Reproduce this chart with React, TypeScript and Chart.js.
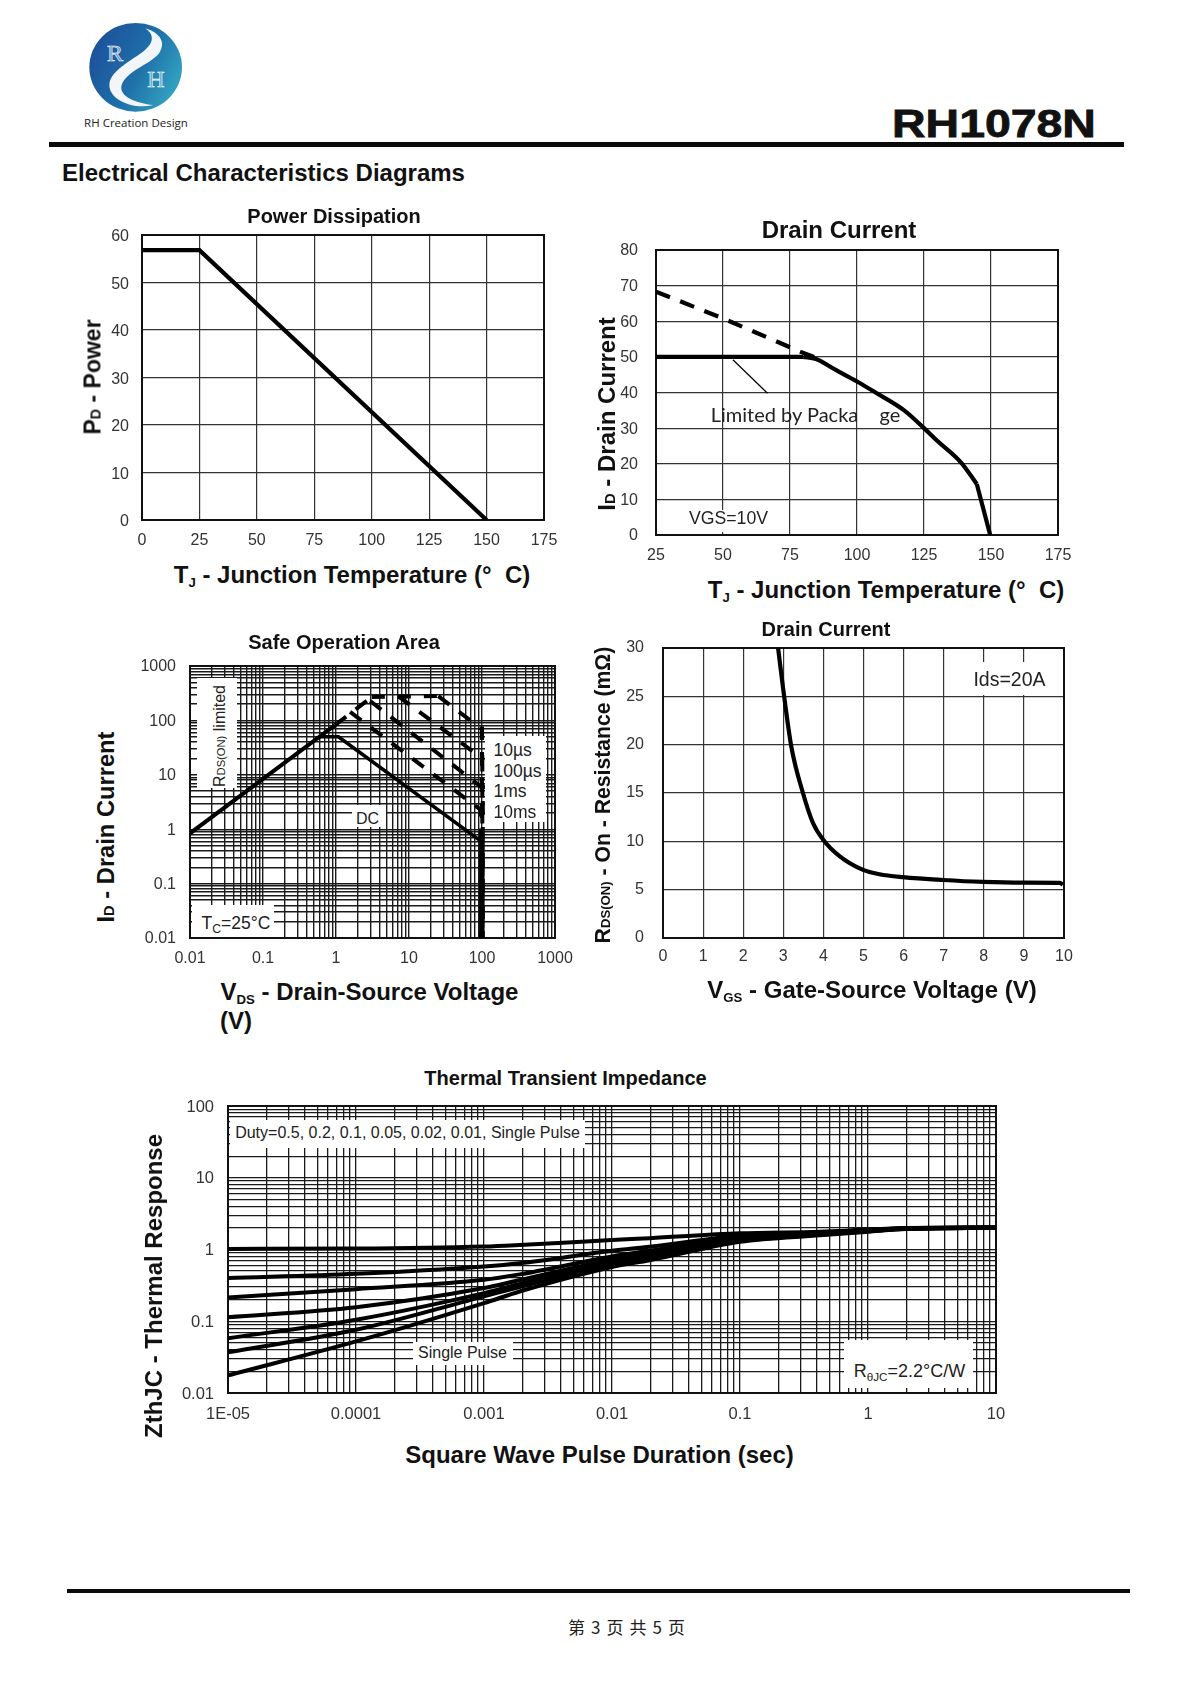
import React, { useEffect, useRef } from "react";
import { Chart, registerables } from "chart.js";

Chart.register(...registerables);

const SANS = '"Liberation Sans", Arial, sans-serif';

// ---------- Power Dissipation ----------
const powerTemp = [0, 25, 150];
const powerWatts = [56.8, 56.8, 0];

// ---------- Drain Current vs temperature ----------
const flatTemp = [25, 80];
const flatAmps = [50, 50];
const currentTemp = [80, 84.7, 91.9, 100, 106.9, 117.6, 125, 129.7, 139, 144.7];
const currentAmps = [50, 49.4, 46.4, 43.1, 40, 35, 30, 26.6, 20.2, 14.3];
const fallTemp = [144.7, 149.7];
const fallAmps = [14.3, 0];
const siliconTemp = [25, 50, 79, 84];
const siliconAmps = [68.3, 60.8, 51.4, 50];
const leaderTemp = [53.7, 66.6];
const leaderAmps = [49.2, 39.8];

// ---------- Safe Operation Area ----------
const rdsV = [0.01, 0.97];
const rdsA = [0.84, 81.6];
const rdsDashV = [0.97, 3.1];
const rdsDashA = [81.6, 270];
const topDashV = [3.1, 25.2];
const topDashA = [270, 280];
const dcV = [0.6, 1.08, 98.5];
const dcA = [50, 50, 0.59];
const dcTailV = [99.5, 99.5];
const dcTailA = [0.59, 0.01];
const us10V = [25.2, 97, 100, 100];
const us10A = [280, 71, 71, 0.01];
const us100V = [7.16, 97, 101, 101];
const us100A = [277, 20.8, 20.8, 0.01];
const ms1V = [2.94, 97, 102.5, 102.5];
const ms1A = [227, 6.03, 6.03, 0.01];
const ms10V = [1.56, 97, 97, 97];
const ms10A = [143, 2.25, 2.25, 0.01];
const soaTickLabelsX = ["0.01", "0.1", "1", "10", "100", "1000"];
const soaTickLabelsY = ["0.01", "0.1", "1", "10", "100", "1000"];

// ---------- On-resistance vs VGS ----------
const vgs = [2.87, 2.99, 3.2, 3.49, 3.74, 3.99, 4.41, 4.99, 5.4, 5.98, 6.98, 7.98, 8.98, 9.9, 9.97];
const rdsOn = [30, 26, 19.8, 15, 11.9, 10.2, 8.45, 7.05, 6.6, 6.3, 6.0, 5.8, 5.72, 5.7, 5.5];

// ---------- Thermal Transient Impedance ----------
const zthTimes = [1e-5, 1e-4, 1e-3, 0.0019, 0.01, 0.0197, 0.1, 0.42, 1, 2, 10];
const zthDuty50 = [1.02, 1.03, 1.1, 1.156, 1.356, 1.44, 1.68, 1.77, 1.9, 2.0, 2.03];
const zthDuty20 = [0.4, 0.458, 0.58, 0.643, 0.96, 1.09, 1.55, 1.73, 1.88, 1.98, 2.03];
const zthDuty10 = [0.215, 0.28, 0.378, 0.45, 0.8, 0.96, 1.46, 1.7, 1.85, 1.97, 2.02];
const zthDuty05 = [0.114, 0.157, 0.29, 0.375, 0.72, 0.88, 1.4, 1.66, 1.83, 1.96, 2.02];
const zthDuty02 = [0.058, 0.105, 0.247, 0.33, 0.66, 0.82, 1.35, 1.63, 1.81, 1.95, 2.01];
const zthDuty01 = [0.037, 0.076, 0.222, 0.3, 0.62, 0.77, 1.31, 1.6, 1.79, 1.94, 2.01];
const zthSingle = [0.0176, 0.0524, 0.179, 0.26, 0.57, 0.71, 1.28, 1.58, 1.77, 1.93, 2.0];
const zthTickLabelsX = ["1E-05", "0.0001", "0.001", "0.01", "0.1", "1", "10"];
const zthTickLabelsY = ["0.01", "0.1", "1", "10", "100"];

const pts = (xs: number[], ys: number[]) => xs.map((x, i) => ({ x, y: ys[i] }));

const line = (xs: number[], ys: number[], width: number, dash: number[] = [], smooth = false) => ({
  data: pts(xs, ys),
  showLine: true,
  borderColor: "#000",
  backgroundColor: "#000",
  borderWidth: width,
  borderDash: dash,
  pointRadius: 0,
  borderCapStyle: "butt",
  cubicInterpolationMode: smooth ? "monotone" : "default",
});

const framePlugin = {
  id: "frame",
  beforeDatasetsDraw(chart: any) {
    const { ctx, chartArea: a } = chart;
    ctx.save();
    ctx.strokeStyle = "#111";
    ctx.lineWidth = 2;
    ctx.strokeRect(a.left, a.top, a.right - a.left, a.bottom - a.top);
    ctx.restore();
  },
};

const PAD_L = 70;
const PAD_R = 40;
const PAD_T = 15;
const PAD_B = 40;

const fixSize = (s: any, side: "x" | "y") => {
  if (side === "x") s.height = PAD_B;
  else s.width = PAD_L;
  s.paddingTop = 0;
  s.paddingBottom = 0;
  s.paddingLeft = 0;
  s.paddingRight = 0;
};

function linearAxis(min: number, max: number, step: number, padding: number, size: number, side: "x" | "y", offset = 0) {
  return {
    type: "linear",
    min,
    max,
    border: { display: false },
    grid: { color: "#333", lineWidth: 1.2, drawTicks: false },
    ticks: {
      stepSize: step,
      padding,
      color: "#333",
      maxRotation: 0,
      autoSkip: false,
      labelOffset: offset,
      font: { family: SANS, size },
    },
    afterFit: (s: any) => fixSize(s, side),
  };
}

function logAxis(min: number, max: number, labels: string[], padding: number, size: number, side: "x" | "y", gridWidth: number) {
  const first = Math.round(Math.log10(min));
  const last = Math.round(Math.log10(max));
  return {
    type: "logarithmic",
    min,
    max,
    border: { display: false },
    grid: { color: "#1a1a1a", lineWidth: gridWidth, drawTicks: false },
    ticks: {
      padding,
      color: "#333",
      maxRotation: 0,
      autoSkip: false,
      labelOffset: side === "y" ? 1 : 0,
      font: { family: SANS, size },
      callback: (v: number) => {
        const e = Math.log10(v);
        return Math.abs(e - Math.round(e)) < 1e-6 ? labels[Math.round(e) - first] : "";
      },
    },
    afterBuildTicks: (s: any) => {
      const t: any[] = [];
      for (let e = first; e <= last; e++) {
        for (let m = 1; m <= (e === last ? 1 : 9); m++) t.push({ value: Number(`${m}e${e}`) });
      }
      s.ticks = t;
    },
    afterFit: (s: any) => fixSize(s, side),
  };
}

const panels = [
  {
    rect: [142, 544, 235, 520],
    datasets: () => [line(powerTemp, powerWatts, 4.2)],
    x: () => linearAxis(0, 175, 25, 11, 16, "x"),
    y: () => linearAxis(0, 60, 10, 13, 16, "y", 2),
  },
  {
    rect: [656, 1058, 250, 535],
    datasets: () => [
      line(flatTemp, flatAmps, 4.2),
      line(currentTemp, currentAmps, 4.2, [], true),
      line(fallTemp, fallAmps, 4.2),
      line(siliconTemp, siliconAmps, 4.2, [15, 11]),
      line(leaderTemp, leaderAmps, 1.2),
    ],
    x: () => linearAxis(25, 175, 25, 11, 16, "x"),
    y: () => linearAxis(0, 80, 10, 18, 16, "y", 1),
  },
  {
    rect: [190, 555, 666, 938],
    datasets: () => [
      line(rdsV, rdsA, 4),
      line(rdsDashV, rdsDashA, 4, [14, 12]),
      line(topDashV, topDashA, 4, [13, 13]),
      line(dcV, dcA, 3.6),
      line(dcTailV, dcTailA, 5.5),
      line(us10V, us10A, 4, [14, 12]),
      line(us100V, us100A, 4, [14, 12]),
      line(ms1V, ms1A, 4, [14, 12]),
      line(ms10V, ms10A, 4, [14, 12]),
    ],
    x: () => logAxis(0.01, 1000, soaTickLabelsX, 11, 16, "x", 1.4),
    y: () => logAxis(0.01, 1000, soaTickLabelsY, 14, 16, "y", 1.4),
  },
  {
    rect: [663, 1064, 648, 938],
    datasets: () => [line(vgs, rdsOn, 4.2, [], true)],
    x: () => linearAxis(0, 10, 1, 9, 16, "x"),
    y: () => linearAxis(0, 30, 5, 19, 16, "y", 0),
  },
  {
    rect: [228, 996, 1106, 1393],
    datasets: () =>
      [zthDuty50, zthDuty20, zthDuty10, zthDuty05, zthDuty02, zthDuty01, zthSingle].map((v) =>
        line(zthTimes, v, 4, [], true)
      ),
    x: () => logAxis(1e-5, 10, zthTickLabelsX, 12, 16.5, "x", 1.3),
    y: () => logAxis(0.01, 100, zthTickLabelsY, 14, 16.5, "y", 1.3),
  },
];

function Panel({ p }: { p: (typeof panels)[number] }) {
  const ref = useRef<HTMLCanvasElement>(null);
  const [l, r, t, b] = p.rect;
  useEffect(() => {
    const chart = new Chart(ref.current as HTMLCanvasElement, {
      type: "scatter",
      data: { datasets: p.datasets() as any },
      options: {
        animation: false,
        responsive: false,
        layout: { autoPadding: false, padding: { top: PAD_T, right: PAD_R, left: 0, bottom: 0 } },
        plugins: { legend: { display: false }, tooltip: { enabled: false }, title: { display: false } },
        scales: { x: p.x() as any, y: p.y() as any },
      },
      plugins: [framePlugin],
    });
    return () => chart.destroy();
  }, []);
  return (
    <canvas
      ref={ref}
      width={r - l + PAD_L + PAD_R}
      height={b - t + PAD_T + PAD_B}
      style={{ position: "absolute", left: l - PAD_L, top: t - PAD_T }}
    />
  );
}

function T({ x, y, size, bold, rot, color, family, sx, ls, stroke, la, children }: any) {
  return (
    <div
      style={{
        position: "absolute",
        left: x,
        top: y,
        transform: `translate(${la ? "0" : "-50%"},-50%)${rot ? " rotate(-90deg)" : ""}${sx ? ` scaleX(${sx})` : ""}`,
        fontFamily: family || SANS,
        fontSize: size,
        fontWeight: bold ? 700 : 400,
        color: color || "#111",
        whiteSpace: "pre",
        lineHeight: 1,
        letterSpacing: ls,
        WebkitTextStroke: stroke,
      }}
    >
      {children}
    </div>
  );
}

const Box = ({ l, t, r, b }: any) => (
  <div style={{ position: "absolute", left: l, top: t, width: r - l, height: b - t, background: "#fff" }} />
);

const Sm = ({ children, drop, k }: any) => (
  <span style={{ fontSize: `${k || 0.62}em`, position: "relative", top: drop ? "0.3em" : 0 }}>{children}</span>
);

const Rule = ({ l, r, t, h }: any) => (
  <div style={{ position: "absolute", left: l, top: t, width: r - l, height: h, background: "#0a0a0a" }} />
);

function Logo() {
  return (
    <svg viewBox="0 0 390 390" width={130} height={130} style={{ position: "absolute", left: 70, top: 10 }}>
      <defs>
        <linearGradient id="lg" x1="0" y1="0.2" x2="1" y2="0.7">
          <stop offset="0" stopColor="#1d4e9a" />
          <stop offset="0.55" stopColor="#1e6fa8" />
          <stop offset="1" stopColor="#34a6c2" />
        </linearGradient>
      </defs>
      <ellipse cx="197" cy="172" rx="139" ry="133" fill="url(#lg)" />
      <path
        d="M225 55 C275 70 285 100 270 125 C250 160 170 180 155 225 C145 260 200 280 250 285 C190 300 118 270 118 225 C120 180 190 150 225 120 C255 95 250 70 225 55 Z"
        fill="#f2f5fa"
      />
      <text x="135" y="152" textAnchor="middle" fontFamily='"Liberation Serif", serif' fontSize="72" fill="#5f93c4" stroke="#f4f8fc" strokeWidth="2">R</text>
      <text x="258" y="230" textAnchor="middle" fontFamily='"Liberation Serif", serif' fontSize="72" fill="#4da6c6" stroke="#f4f8fc" strokeWidth="2">H</text>
    </svg>
  );
}

export default function App() {
  return (
    <div style={{ position: "absolute", left: 0, top: 0, width: 1191, height: 1684, overflow: "hidden", background: "#fff" }}>
      {panels.map((p, i) => (
        <Panel key={i} p={p} />
      ))}

      <Logo />
      <T x={136} y={123} size={11.5} family='"Open Sans", sans-serif' color="#222">RH Creation Design</T>
      <T x={994} y={122.5} size={39} bold sx={1.19} stroke="0.8px #111">RH1078N</T>
      <Rule l={49} r={1124} t={142} h={4.5} />
      <T x={263.5} y={173} size={24} bold>Electrical Characteristics Diagrams</T>

      <T x={334} y={216} size={20} bold>Power Dissipation</T>
      <T x={352} y={575} size={24} bold>T<Sm drop k={0.55}>J</Sm> - Junction Temperature (°  C)</T>
      <T x={93} y={377} size={23} bold rot>P<Sm>D</Sm> - Power</T>

      <T x={839} y={230} size={24} bold>Drain Current</T>
      <T x={886} y={590} size={24} bold>T<Sm drop k={0.55}>J</Sm> - Junction Temperature (°  C)</T>
      <T x={606.5} y={414} size={24} bold rot>I<Sm>D</Sm> - Drain Current</T>
      <T x={784.5} y={414} size={20} family="Lato, sans-serif" color="#222">Limited by Packa</T>
      <T x={890} y={414} size={20} family="Lato, sans-serif" color="#222">ge</T>
      <Box l={689} t={510} r={768} b={532} />
      <T x={728.5} y={519} size={17.7} color="#222">VGS=10V</T>

      <T x={344} y={642} size={20} bold>Safe Operation Area</T>
      <T x={369.5} y={992} size={24} bold>V<Sm drop k={0.55}>DS</Sm> - Drain-Source Voltage</T>
      <T x={236} y={1021} size={24} bold>(V)</T>
      <T x={107} y={827} size={23.7} bold rot>I<Sm>D</Sm> - Drain Current</T>
      <Box l={197} t={678} r={237} b={788} />
      <T x={220} y={735.5} size={16} rot color="#222">R<Sm k={0.7}>DS(ON)</Sm> limited</T>
      <Box l={192} t={905} r={274} b={937} />
      <T x={236} y={924} size={17.5} color="#222">T<Sm drop k={0.7}>C</Sm>=25°C</T>
      <Box l={352} t={805} r={386} b={827} />
      <T x={367.5} y={819} size={16} color="#222">DC</T>
      <Box l={485} t={736} r={546} b={822} />
      <T x={493.5} y={751} size={17.5} la color="#222">10µs</T>
      <T x={493.5} y={772} size={17.5} la color="#222">100µs</T>
      <T x={493.5} y={792} size={17.5} la color="#222">1ms</T>
      <T x={493.5} y={813} size={17.5} la color="#222">10ms</T>

      <T x={826} y={629} size={20} bold>Drain Current</T>
      <T x={872} y={990} size={24} bold>V<Sm drop k={0.55}>GS</Sm> - Gate-Source Voltage (V)</T>
      <T x={603} y={795} size={21.2} bold rot>R<Sm>DS(ON)</Sm> - On - Resistance (mΩ)</T>
      <Box l={973} t={662} r={1047} b={695} />
      <T x={1009.5} y={680} size={19.5} color="#222">Ids=20A</T>

      <T x={565.5} y={1078} size={20} bold>Thermal Transient Impedance</T>
      <T x={599.5} y={1455} size={24} bold>Square Wave Pulse Duration (sec)</T>
      <T x={153.5} y={1285.5} size={24} bold rot>ZthJC - Thermal Response</T>
      <Box l={230} t={1120} r={585} b={1148} />
      <T x={407.5} y={1132.5} size={16} color="#222">Duty=0.5, 0.2, 0.1, 0.05, 0.02, 0.01, Single Pulse</T>
      <Box l={413} t={1342} r={513} b={1365} />
      <T x={462.5} y={1352.5} size={16} color="#222">Single Pulse</T>
      <Box l={844} t={1340} r={973} b={1388} />
      <T x={909.5} y={1371} size={18} color="#222">R<Sm drop k={0.65}>θJC</Sm>=2.2°C/W</T>

      <Rule l={67} r={1130} t={1589} h={4} />
      <T x={627} y={1626} size={17} ls="1.1px" family='"Noto Sans CJK SC", sans-serif' color="#222">第 3 页 共 5 页</T>
    </div>
  );
}
